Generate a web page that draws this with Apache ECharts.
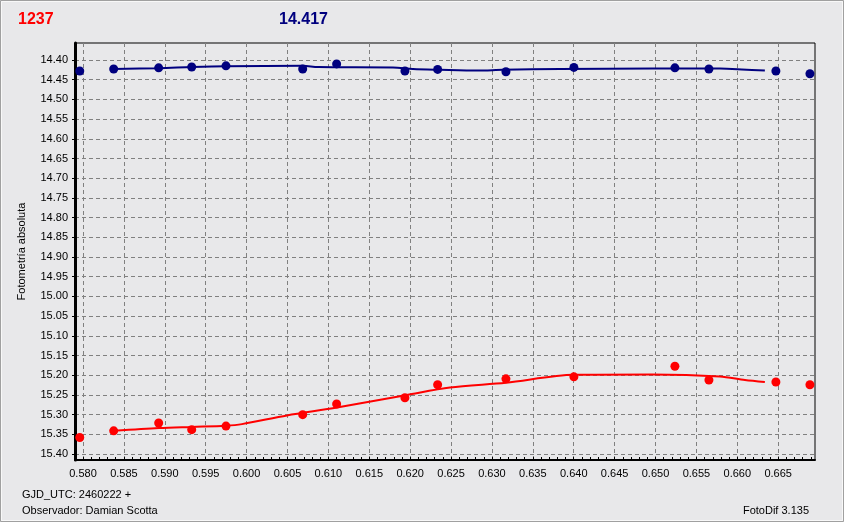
<!DOCTYPE html>
<html>
<head>
<meta charset="utf-8">
<script src="https://cdn.jsdelivr.net/npm/echarts@6/dist/echarts.min.js"></script>
<style>
html,body{margin:0;padding:0;background:#e8e8ea;}
#chart{width:844px;height:522px;}
</style>
</head>
<body>
<div id="chart"></div>
<script>
// ---- data ----
const times = [0.5796, 0.58375, 0.58925, 0.59329, 0.59748, 0.60686, 0.61101, 0.61936, 0.62336, 0.63171, 0.64002, 0.65237, 0.65653, 0.66472, 0.66888];
const blueMag = [14.428, 14.423, 14.420, 14.418, 14.415, 14.423, 14.410, 14.428, 14.424, 14.430, 14.419, 14.420, 14.423, 14.428, 14.435];
const redMag = [15.358, 15.341, 15.321, 15.338, 15.329, 15.300, 15.273, 15.257, 15.224, 15.209, 15.204, 15.177, 15.212, 15.217, 15.224];

const blueFitX = [0.58375, 0.58929, 0.59333, 0.59748, 0.60689, 0.60873, 0.61790, 0.62034, 0.62364, 0.62829, 0.63134, 0.63831, 0.64968, 0.65787, 0.66056, 0.66337];
const blueFitY = [14.423, 14.421, 14.418, 14.416, 14.415, 14.418, 14.419, 14.423, 14.425, 14.427, 14.425, 14.423, 14.422, 14.422, 14.424, 14.427];
const redFitX = [0.58379, 0.58929, 0.59333, 0.59748, 0.59944, 0.60494, 0.61105, 0.61961, 0.62487, 0.63171, 0.64002, 0.64956, 0.65787, 0.66093, 0.66337];
const redFitY = [15.341, 15.334, 15.331, 15.328, 15.324, 15.302, 15.282, 15.250, 15.231, 15.219, 15.199, 15.198, 15.203, 15.212, 15.217];

const xTicks = [0.580, 0.585, 0.590, 0.595, 0.600, 0.605, 0.610, 0.615, 0.620, 0.625, 0.630, 0.635, 0.640, 0.645, 0.650, 0.655, 0.660, 0.665];
const yTicks = [14.40, 14.45, 14.50, 14.55, 14.60, 14.65, 14.70, 14.75, 14.80, 14.85, 14.90, 14.95, 15.00, 15.05, 15.10, 15.15, 15.20, 15.25, 15.30, 15.35, 15.40];

const titleLeft = '1237';
const titleMid = '14.417';
const yName = 'Fotometría absoluta';
const foot1 = 'GJD_UTC: 2460222 +';
const foot2 = 'Observador: Damian Scotta';
const foot3 = 'FotoDif 3.135';

// minor x ticks every 0.001
const xMinor = [];
for (let i = 579; i <= 669; i++) xMinor.push(i / 1000);

const zip = (a, b) => a.map((v, i) => [v, b[i]]);

const X_MIN = 0.57902, X_MAX = 0.6695;
const Y_MIN = 14.357, Y_MAX = 15.415;
const FONT = '"Liberation Sans", Arial, sans-serif';
const gridDash = { color: '#808080', type: [4, 3], width: 1 };
// plus-like dot marker
const dot = 'path://M3,0 H6 V3 H9 V6 H6 V9 H3 V6 H0 V3 H3 Z M1.2,1.2 H7.8 V7.8 H1.2 Z';

const chart = echarts.init(document.getElementById('chart'), null, { renderer: 'canvas' });
chart.setOption({
  backgroundColor: '#e8e8ea',
  animation: false,
  grid: {
    left: 75, top: 43, right: 29, bottom: 62,
    show: true, borderColor: '#000', borderWidth: 1, backgroundColor: 'transparent',
    containLabel: false, outerBoundsMode: 'none'
  },
  xAxis: [{
    type: 'value', min: X_MIN, max: X_MAX, position: 'bottom',
    axisLine: { show: true, onZero: false, lineStyle: { color: '#000', width: 2 } },
    axisTick: { show: true, inside: true, length: 3, customValues: xTicks, lineStyle: { color: '#000' } },
    axisLabel: { customValues: xTicks, formatter: v => v.toFixed(3), color: '#000', fontFamily: FONT, fontSize: 11, margin: 8 },
    splitLine: { show: true, lineStyle: gridDash }
  }, {
    type: 'value', min: X_MIN, max: X_MAX, position: 'bottom', gridIndex: 0,
    axisLine: { show: false },
    axisTick: { show: true, inside: true, length: 3, customValues: xMinor, lineStyle: { color: '#000' } },
    axisLabel: { show: false },
    splitLine: { show: false }
  }],
  yAxis: {
    type: 'value', inverse: true, min: Y_MIN, max: Y_MAX,
    axisLine: { show: true, onZero: false, lineStyle: { color: '#000', width: 3 } },
    axisTick: { show: true, inside: false, length: 3, customValues: yTicks, lineStyle: { color: '#000' } },
    axisLabel: { customValues: yTicks, formatter: v => v.toFixed(2), color: '#000', fontFamily: FONT, fontSize: 11, margin: 7 },
    splitLine: { show: true, lineStyle: gridDash }
  },
  series: [
    {
      type: 'line', data: zip(blueFitX, blueFitY), smooth: 0.3, showSymbol: false,
      lineStyle: { color: '#00007f', width: 2 }, z: 2, silent: true
    },
    {
      type: 'line', data: zip(redFitX, redFitY), smooth: 0.3, showSymbol: false,
      lineStyle: { color: '#ff0000', width: 2 }, z: 2, silent: true
    },
    {
      type: 'scatter', data: zip(times, blueMag), symbol: 'circle', symbolSize: 9,
      itemStyle: { color: '#00007f', opacity: 1 }, z: 3
    },
    {
      type: 'scatter', data: zip(times, redMag), symbol: 'circle', symbolSize: 9,
      itemStyle: { color: '#ff0000', opacity: 1 }, z: 3
    }
  ],
  graphic: [
    { type: 'rect', shape: { x: 0.5, y: 0.5, width: 843, height: 521 }, style: { fill: 'none', stroke: '#a0a0a0', lineWidth: 1 }, silent: true },
    { type: 'rect', shape: { x: 1.5, y: 1.5, width: 841, height: 519 }, style: { fill: 'none', stroke: '#f8f8f8', lineWidth: 1 }, silent: true },
    { type: 'text', x: 18, y: 19.5, style: { text: titleLeft, fill: '#ff0000', font: 'bold 16px ' + FONT, textVerticalAlign: 'middle' } },
    { type: 'text', x: 279, y: 19.5, style: { text: titleMid, fill: '#00007f', font: 'bold 16px ' + FONT, textVerticalAlign: 'middle' } },
    { type: 'text', x: 22, y: 251.5, rotation: Math.PI / 2, style: { text: yName, fill: '#000', font: '11px ' + FONT, textAlign: 'center', textVerticalAlign: 'middle' } },
    { type: 'text', x: 22, y: 494.5, style: { text: foot1, fill: '#000', font: '11px ' + FONT, textVerticalAlign: 'middle' } },
    { type: 'text', x: 22, y: 510.5, style: { text: foot2, fill: '#000', font: '11px ' + FONT, textVerticalAlign: 'middle' } },
    { type: 'text', x: 809, y: 510.5, style: { text: foot3, fill: '#000', font: '11px ' + FONT, textAlign: 'right', textVerticalAlign: 'middle' } }
  ]
});
</script>
</body>
</html>
